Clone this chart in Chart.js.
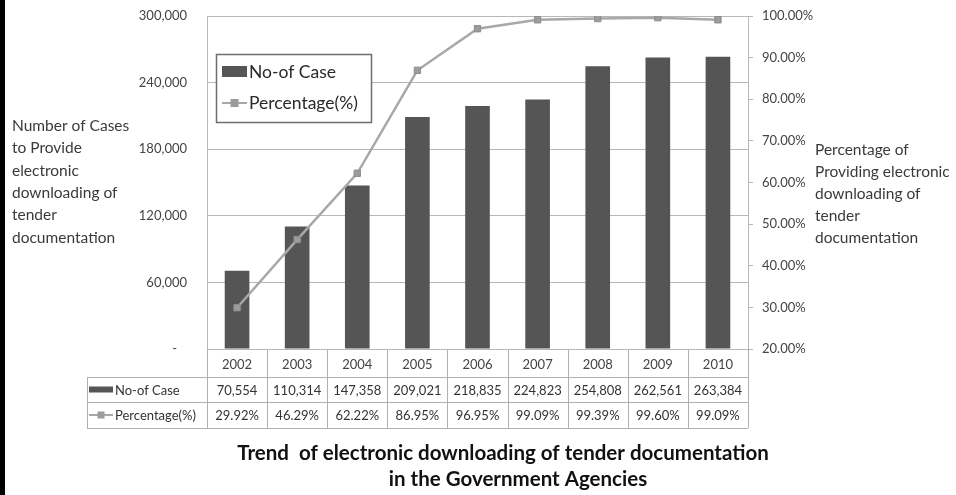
<!DOCTYPE html>
<html>
<head>
<meta charset="utf-8">
<script src="https://cdn.jsdelivr.net/npm/chart.js@4.4.1/dist/chart.umd.min.js"></script>
<style>
  html, body { margin: 0; padding: 0; background: #fff; }
  #wrap { position: relative; width: 956px; height: 495px; overflow: hidden; }
  #edge { position: absolute; left: 0; top: 0; width: 5px; height: 495px; background: #000; }
  canvas { position: absolute; left: 0; top: 0; }
</style>
</head>
<body>
<div id="wrap">
  <canvas id="c" width="956" height="495"></canvas>
  <div id="edge"></div>
</div>
<script>
// Years on the category axis
const years = ['2002', '2003', '2004', '2005', '2006', '2007', '2008', '2009', '2010'];
// Number of cases providing electronic downloading
const caseCounts = [70554, 110314, 147358, 209021, 218835, 224823, 254808, 262561, 263384];
// Percentage of cases providing electronic downloading
const percentages = [29.92, 46.29, 62.22, 86.95, 96.95, 99.09, 99.39, 99.60, 99.09];
// Axis ranges and steps
const caseAxis = { min: 0, max: 300000, step: 60000 };
const pctAxis = { min: 20, max: 100, step: 10 };
// Series names
const seriesNames = ['No-of Case', 'Percentage(%)'];
// Axis titles and chart title
const leftTitle = ['Number of Cases', 'to Provide', 'electronic', 'downloading of', 'tender', 'documentation'];
const rightTitle = ['Percentage of', 'Providing electronic', 'downloading of', 'tender', 'documentation'];
const chartTitle = ['Trend  of electronic downloading of tender documentation', 'in the Government Agencies'];

const FONT = 'Lato, "Open Sans", sans-serif';
const BAR_COLOR = '#555555';
const LINE_COLOR = '#a8a8a8';
const MARK_COLOR = '#9c9c9c';
const GRID = '#b8b8b8';
const TEXT = '#444444';

const fmtCount = v => v.toLocaleString('en-US');
const fmtPct = v => v.toFixed(2) + '%';

function drawRectKey(ctx, x, y, w, h) {
  ctx.fillStyle = BAR_COLOR;
  ctx.fillRect(x, y, w, h);
}
function drawLineKey(ctx, x, y, w, s) {
  ctx.strokeStyle = LINE_COLOR;
  ctx.lineWidth = 2;
  ctx.beginPath();
  ctx.moveTo(x, y);
  ctx.lineTo(x + w, y);
  ctx.stroke();
  ctx.fillStyle = MARK_COLOR;
  ctx.fillRect(x + w / 2 - s / 2, y - s / 2, s, s);
}

// Keep the vertical axes from reserving extra room above and below the plot
function trimPadding(s) {
  s.paddingTop = 8;
  s.paddingBottom = 8;
}

const extras = {
  id: 'extras',
  afterDraw(chart) {
    const { ctx, chartArea: a, scales: { x } } = chart;
    ctx.save();

    // Legend box inside the plot
    const lx = 216.5, ly = 54.5, lw = 155, lh = 68;
    ctx.fillStyle = '#fff';
    ctx.fillRect(lx, ly, lw, lh);
    ctx.strokeStyle = '#6e6e6e';
    ctx.lineWidth = 1.5;
    ctx.strokeRect(lx, ly, lw, lh);
    drawRectKey(ctx, 222, 66, 25, 11);
    drawLineKey(ctx, 222, 103, 25, 8);
    ctx.fillStyle = '#2a2a2a';
    ctx.font = '17.5px ' + FONT;
    ctx.textAlign = 'left';
    ctx.textBaseline = 'middle';
    ctx.fillText(seriesNames[0], 249, 72);
    ctx.fillText(seriesNames[1], 249, 103);

    // Axis titles
    ctx.fillStyle = '#3a3a3a';
    ctx.font = '15.5px ' + FONT;
    leftTitle.forEach((t, i) => ctx.fillText(t, 12, 126 + i * 22.3));
    rightTitle.forEach((t, i) => ctx.fillText(t, 815, 150 + i * 22));

    // Data table under the category axis
    const n = years.length;
    const colW = (a.right - a.left) / n;
    const y0 = a.bottom, y1 = a.bottom + 28, y2 = a.bottom + 53, y3 = a.bottom + 79;
    const tl = 87;
    ctx.strokeStyle = '#b0b0b0';
    ctx.lineWidth = 1;
    ctx.beginPath();
    for (let i = 0; i <= n; i++) {
      const xx = Math.round(a.left + i * colW) + 0.5;
      ctx.moveTo(xx, y0);
      ctx.lineTo(xx, y3);
    }
    ctx.moveTo(tl + 0.5, y1);
    ctx.lineTo(tl + 0.5, y3);
    [y1, y2, y3].forEach(yy => {
      ctx.moveTo(tl, yy + 0.5);
      ctx.lineTo(a.right, yy + 0.5);
    });
    ctx.stroke();

    // Row headers with series keys
    drawRectKey(ctx, 89, (y1 + y2) / 2 - 3, 24, 6);
    drawLineKey(ctx, 89, (y2 + y3) / 2, 24, 7);
    ctx.fillStyle = '#333';
    ctx.font = '13px ' + FONT;
    ctx.textAlign = 'left';
    ctx.fillText(seriesNames[0], 115, (y1 + y2) / 2 + 1);
    ctx.fillText(seriesNames[1], 115, (y2 + y3) / 2 + 1);

    // Row values
    ctx.textAlign = 'center';
    for (let i = 0; i < n; i++) {
      const cx = x.getPixelForValue(i);
      ctx.fillText(fmtCount(caseCounts[i]), cx, (y1 + y2) / 2 + 1);
      ctx.fillText(fmtPct(percentages[i]), cx, (y2 + y3) / 2 + 1);
    }

    // Chart title
    ctx.fillStyle = '#111';
    ctx.font = 'bold 20.5px ' + FONT;
    ctx.fillText(chartTitle[0], 503, 453);
    ctx.fillText(chartTitle[1], 518, 479);

    ctx.restore();
  }
};

const chart = new Chart(document.getElementById('c'), {
  data: {
    labels: years,
    datasets: [
      {
        type: 'line',
        label: seriesNames[1],
        data: percentages,
        yAxisID: 'y2',
        order: 0,
        borderColor: LINE_COLOR,
        borderWidth: 2.5,
        pointStyle: 'rect',
        pointRadius: 4.5,
        pointBackgroundColor: MARK_COLOR,
        pointBorderColor: '#8e8e8e',
        pointBorderWidth: 1,
        tension: 0
      },
      {
        type: 'bar',
        label: seriesNames[0],
        data: caseCounts,
        yAxisID: 'y',
        order: 1,
        backgroundColor: BAR_COLOR,
        categoryPercentage: 1,
        barPercentage: 0.41
      }
    ]
  },
  options: {
    responsive: false,
    animation: false,
    devicePixelRatio: 1,
    layout: { padding: { top: 16, left: 0, right: 0, bottom: 0 } },
    plugins: { legend: { display: false }, tooltip: { enabled: false }, title: { display: false } },
    scales: {
      x: {
        type: 'category',
        grid: { display: false, drawTicks: false },
        border: { display: true, color: GRID, width: 1 },
        ticks: { color: TEXT, font: { family: FONT, size: 13 }, padding: 8, maxRotation: 0 },
        afterFit(s) { s.height = 146; }
      },
      y: {
        position: 'left',
        min: caseAxis.min,
        max: caseAxis.max,
        grid: { color: GRID, lineWidth: 1, drawTicks: false },
        border: { display: true, color: GRID, width: 1 },
        ticks: {
          stepSize: caseAxis.step,
          color: TEXT,
          font: { family: FONT, size: 13 },
          padding: 20,
          callback: v => v === 0 ? '-   ' : fmtCount(v)
        },
        afterFit(s) { s.width = 207; trimPadding(s); }
      },
      y2: {
        position: 'right',
        min: pctAxis.min,
        max: pctAxis.max,
        grid: { drawOnChartArea: false, drawTicks: true, tickLength: 5, color: GRID },
        border: { display: true, color: GRID, width: 1 },
        ticks: {
          stepSize: pctAxis.step,
          color: TEXT,
          font: { family: FONT, size: 13 },
          padding: 9,
          callback: v => fmtPct(v)
        },
        afterFit(s) { s.width = 208; trimPadding(s); }
      }
    }
  },
  plugins: [extras]
});
</script>
</body>
</html>
